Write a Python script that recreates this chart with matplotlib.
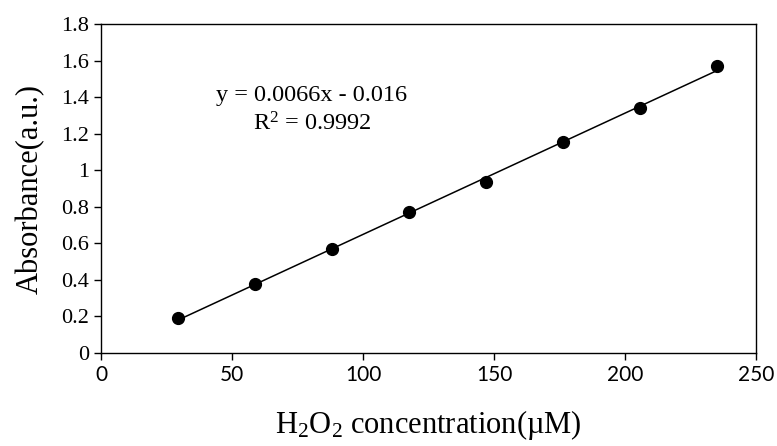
import numpy as np
import matplotlib.pyplot as plt

# calibration data
conc = [29.4, 58.8, 88.2, 117.6, 147.0, 176.4, 205.8, 235.2]
absorb = [0.19, 0.376, 0.569, 0.773, 0.937, 1.153, 1.339, 1.570]
xticks = [0, 50, 100, 150, 200, 250]
yticks = [0, 0.2, 0.4, 0.6, 0.8, 1, 1.2, 1.4, 1.6, 1.8]
ytick_labels = ['0', '0.2', '0.4', '0.6', '0.8', '1', '1.2', '1.4', '1.6', '1.8']

serif = 'Liberation Serif'
plt.rcParams['mathtext.fontset'] = 'custom'
plt.rcParams['mathtext.rm'] = serif
plt.rcParams['mathtext.it'] = serif + ':italic'

fig = plt.figure(figsize=(7.77, 4.46), dpi=100)
ax = fig.add_axes([0.130, 0.2085, 0.843, 0.7375])

# linear trendline
m, b = np.polyfit(conc, absorb, 1)
xl = np.array([conc[0], conc[-1]])
ax.plot(xl, m*xl + b, color='black', lw=1.1, zorder=2)
ax.plot(conc, absorb, 'o', color='black', markersize=8.5, zorder=3)

ax.text(80.5, 1.41, 'y = 0.0066x - 0.016', family=serif, fontsize=17.5,
        ha='center', va='center')
ax.text(80.5, 1.255, r'R$\mathrm{^2}$ = 0.9992', family=serif, fontsize=17.5,
        ha='center', va='center')

ax.set_xlim(0, 250)
ax.set_ylim(0, 1.8)
ax.set_xticks(xticks)
ax.set_yticks(yticks)
ax.set_xticklabels([str(t) for t in xticks], family='Lato', fontsize=15)
ax.set_yticklabels(ytick_labels, family=serif, fontsize=16)
ax.tick_params(direction='out', length=5, width=1, color='black')

for s in ax.spines.values():
    s.set_linewidth(1.0)

ax.set_xlabel(r'H$\mathrm{_2}$O$\mathrm{_2}$ concentration(µM)', family=serif,
              fontsize=22, labelpad=17)
ax.set_ylabel('Absorbance(a.u.)', family=serif, fontsize=22, labelpad=12)

fig.savefig('out.png', dpi=100)
